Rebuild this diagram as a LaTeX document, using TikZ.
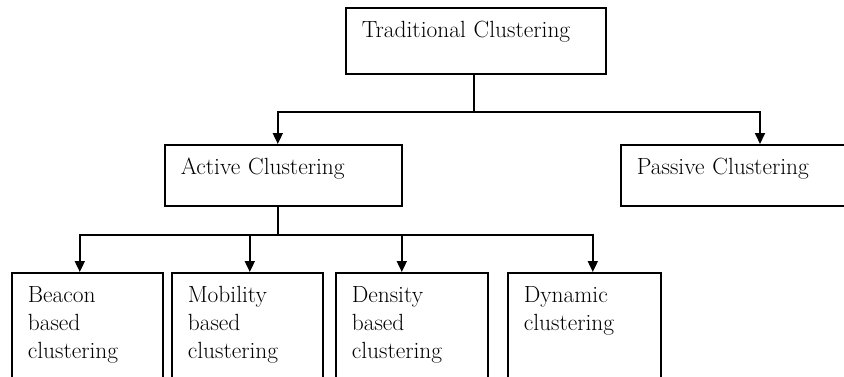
\documentclass[tikz,border=0pt]{standalone}
\usetikzlibrary{arrows.meta}

\tikzset{
  box/.style={draw, line width=1.6bp, anchor=north west, align=left,
    inner xsep=16bp, inner ysep=0pt, text height=30bp,
    font=\fontsize{23.5}{28}\selectfont},
  link/.style={line width=1.8bp}
}

\begin{document}
\begin{tikzpicture}[>={Triangle[length=11bp,width=10bp]}, x=1bp, y=-1bp]

\useasboundingbox (0,0) rectangle (844,376);
\clip (0,0) rectangle (844,376);

% Nodes
\node[box, text width=228bp, text depth=36bp] (trad) at (345,7) {Traditional Clustering};
\node[box, text width=205bp, text depth=31bp] (act) at (164,144) {Active Clustering};
\node[box, text width=208bp, text depth=31bp] (pas) at (620,144) {Passive Clustering};

\node[box, text width=119bp, text depth=120bp] (beacon) at (11,272) {Beacon\\based\\clustering};
\node[box, text width=119bp, text depth=120bp] (mob) at (171,272) {Mobility\\based\\clustering};
\node[box, text width=120bp, text depth=120bp] (dens) at (335,272) {Density\\based\\clustering};
\node[box, text width=121bp, text depth=120bp] (dyn) at (507,272) {Dynamic\\clustering};

% Junctions
\coordinate (top) at (474,112);
\coordinate (mid) at (278,235);

\draw [link] (trad.south -| top) -- (top);
\draw [link, ->] (top) -| ([xshift=-5.5bp]act.north);
\draw [link, ->] (top) -| ([xshift=140bp]pas.north west);

\draw [link] (act.south -| mid) -- (mid);
\draw [link, ->] (mid) -| ([xshift=-7.5bp]beacon.north);
\draw [link, ->] (mid) -| ([xshift=2.5bp]mob.north);
\draw [link, ->] (mid) -| ([xshift=-10bp]dens.north);
\draw [link, ->] (mid) -| ([xshift=8.5bp]dyn.north);

\end{tikzpicture}
\end{document}
